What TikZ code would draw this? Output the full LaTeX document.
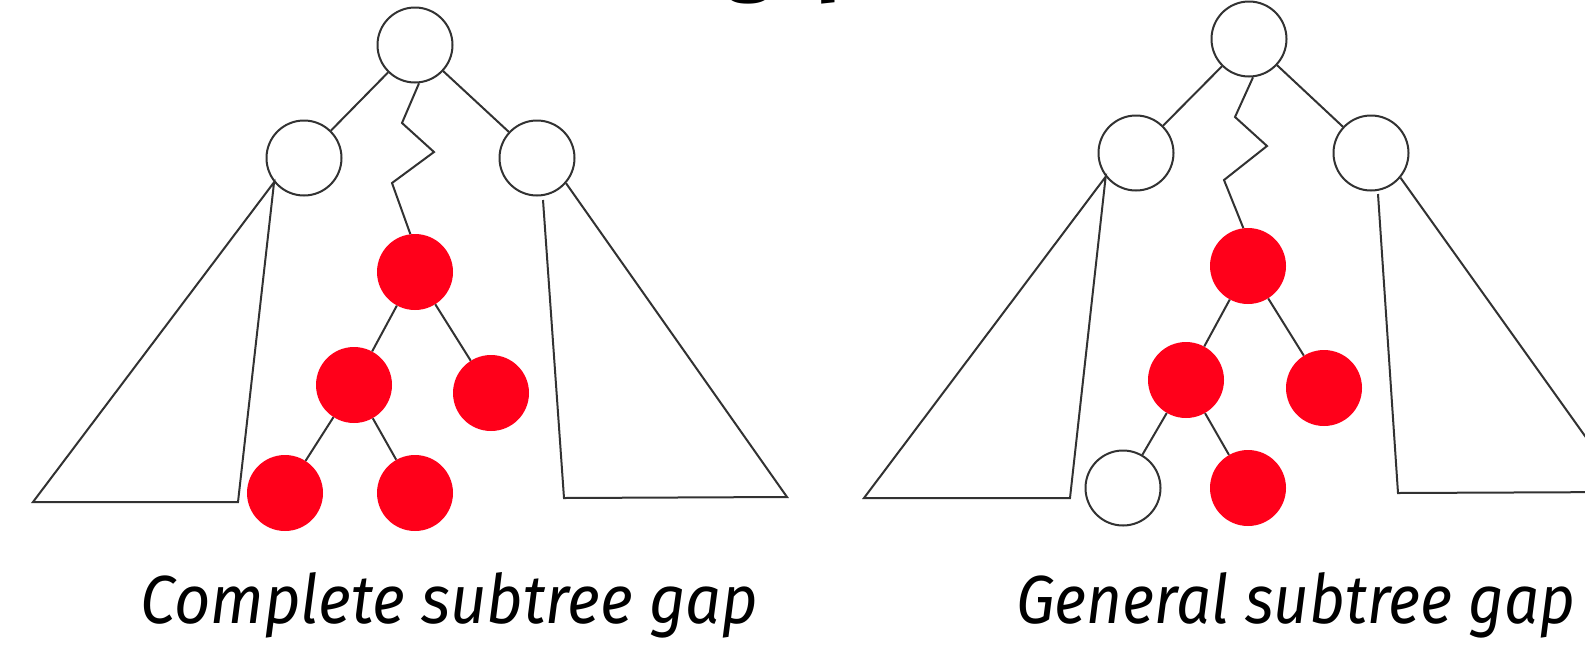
\documentclass[tikz,border=0pt]{standalone}
\usepackage{fontspec}
\setmainfont{Fira Sans}
\usepackage{graphicx}
\definecolor{gapred}{RGB}{255,0,26}
\definecolor{ink}{RGB}{50,50,50}
\begin{document}
\begin{tikzpicture}[x=1pt,y=-1pt,
  link/.style={draw=ink,line width=2pt,line join=miter},
  wnode/.style={circle,draw=ink,line width=2pt,fill=white,minimum size=75pt,inner sep=0pt},
  rnode/.style={circle,fill=gapred,minimum size=76pt,inner sep=0pt},
  caption/.style={inner sep=0pt,anchor=base west,font=\itshape\fontsize{72}{80}\selectfont},
  titletext/.style={inner sep=0pt,anchor=base west,font=\bfseries\fontsize{84}{90}\selectfont}]
\useasboundingbox (0,0) rectangle (1585,649);
\clip (0,0) rectangle (1585,649);

% partially visible title
\node[titletext] (ttl) at (726,-15) {gap};

% ---------------- left tree: complete subtree gap ----------------
\node[wnode] (Aroot) at (415,45) {};
\node[wnode] (Alc) at (304,158) {};
\node[wnode] (Arc) at (537,158) {};
\node[rnode] (Ar0) at (415,272) {};
\node[rnode] (Ar1) at (354,385) {};
\node[rnode] (Ar2) at (491,393) {};
\node[rnode] (Ar3) at (285,493) {};
\node[rnode] (Ar4) at (415,493) {};

\draw[link] (Aroot) -- (Alc);
\draw[link] (Aroot) -- (Arc);
\coordinate (Az1) at (402,123);
\coordinate (Az2) at (434,152);
\coordinate (Az3) at (392,183);
\draw[link] (Aroot.-84) -- (Az1) -- (Az2) -- (Az3) -- (Ar0.97);
\draw[link] (Ar0) -- (Ar1);
\draw[link] (Ar0) -- (Ar2);
\draw[link] (Ar1) -- (Ar3);
\draw[link] (Ar1) -- (Ar4);

\coordinate (AL1) at (33,502);
\coordinate (AL2) at (238,502);
\draw[link] (Alc.219) -- (AL1) -- (AL2) -- cycle;
\coordinate (AR0) at (543,200);
\coordinate (AR1) at (564,498);
\coordinate (AR2) at (787,497);
\draw[link] (AR0) -- (AR1) -- (AR2) -- (Arc.-41);

\node[caption] (capA) at (140,623) {\resizebox{618pt}{51pt}{Complete subtree gap}};

% ---------------- right tree: general subtree gap ----------------
\node[wnode] (Broot) at (1249,39) {};
\node[wnode] (Blc) at (1136,153) {};
\node[wnode] (Brc) at (1371,153) {};
\node[rnode] (Br0) at (1248,266) {};
\node[rnode] (Br1) at (1186,380) {};
\node[rnode] (Br2) at (1324,388) {};
\node[wnode] (Bw3) at (1123,488) {};
\node[rnode] (Br4) at (1248,488) {};

\draw[link] (Broot) -- (Blc);
\draw[link] (Broot) -- (Brc);
\coordinate (Bz1) at (1235,117);
\coordinate (Bz2) at (1267,146);
\coordinate (Bz3) at (1224,180);
\draw[link] (Broot.-84) -- (Bz1) -- (Bz2) -- (Bz3) -- (Br0.97);
\draw[link] (Br0) -- (Br1);
\draw[link] (Br0) -- (Br2);
\draw[link] (Br1) -- (Bw3);
\draw[link] (Br1) -- (Br4);

\coordinate (BL1) at (864,498);
\coordinate (BL2) at (1070,498);
\draw[link] (Blc.218) -- (BL1) -- (BL2) -- cycle;
\coordinate (BR0) at (1378,194);
\coordinate (BR1) at (1398,493);
\coordinate (BR2) at (1625,492);
\draw[link] (BR0) -- (BR1) -- (BR2) -- (Brc.-40);

\node[caption] (capB) at (1016,623) {\resizebox{559pt}{51pt}{General subtree gap}};
\end{tikzpicture}
\end{document}
